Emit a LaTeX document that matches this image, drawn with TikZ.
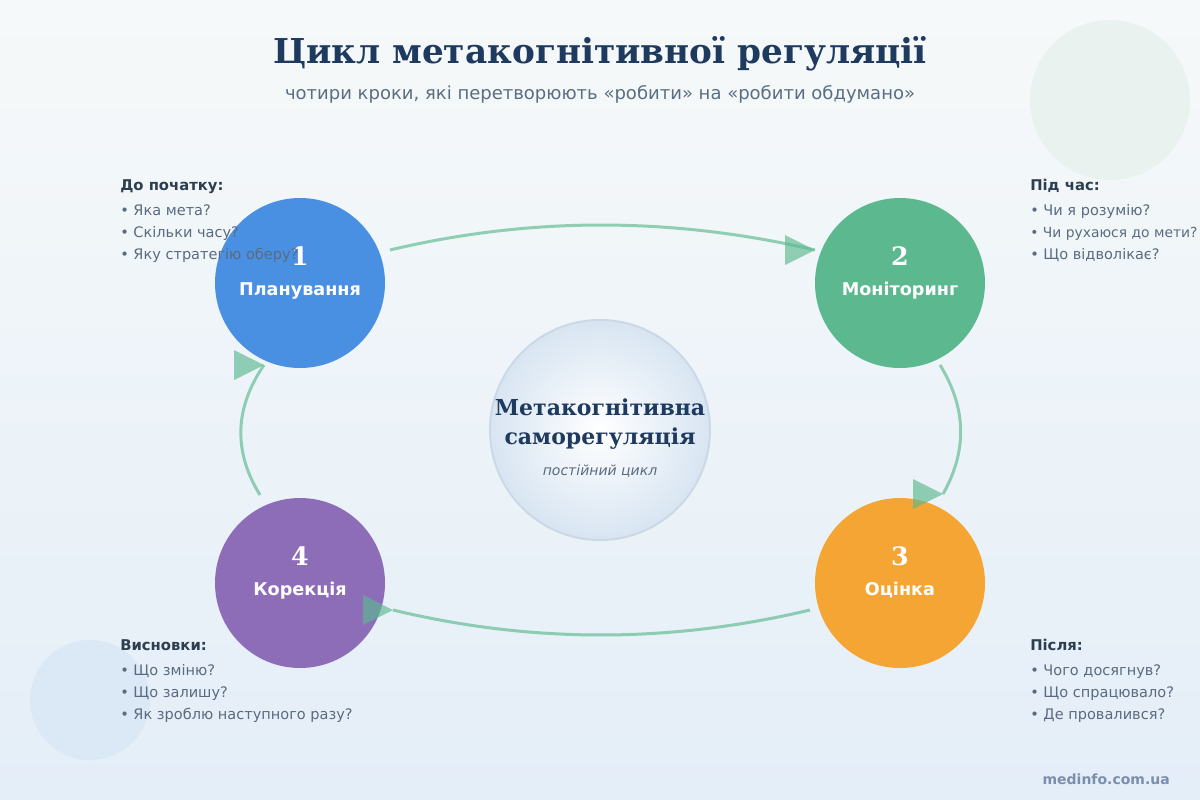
\documentclass[tikz,border=0pt]{standalone}
\usepackage{fontspec}
\setmainfont{DejaVu Serif}
\setsansfont{DejaVu Sans}
\newfontfamily\dvsans{DejaVu Sans}
\newfontfamily\dvserif{DejaVu Serif}
\definecolor{bgtop}{HTML}{F6F9F9}
\definecolor{bgbot}{HTML}{E4EEF8}
\definecolor{decogreen}{HTML}{E9F2EE}
\definecolor{decoblue}{HTML}{DBE8F5}
\definecolor{titlecol}{HTML}{1E3A5F}
\definecolor{subcol}{HTML}{5A6E82}
\definecolor{headcol}{HTML}{2C3E50}
\definecolor{bulcol}{HTML}{5A6B80}
\definecolor{plancol}{HTML}{4A90E2}
\definecolor{moncol}{HTML}{5BB88F}
\definecolor{evalcol}{HTML}{F5A533}
\definecolor{corrcol}{HTML}{8E6DB8}
\definecolor{arrcol}{HTML}{5BB98F}
\definecolor{centeredge}{HTML}{CBD8E6}
\definecolor{centerout}{HTML}{D8E5F2}
\definecolor{footcol}{HTML}{7A8FAD}
\begin{document}
\begin{tikzpicture}[x=0.75pt,y=-0.75pt,
  stepcircle/.style={circle,minimum size=127.5pt,inner sep=0pt,draw=none},
  stepnum/.style={anchor=base,text=white,font=\dvserif\bfseries\fontsize{19}{22}\selectfont,inner sep=0pt},
  steplabel/.style={anchor=base,text=white,font=\dvsans\bfseries\fontsize{13.2}{15}\selectfont,inner sep=0pt},
  sidehead/.style={anchor=base west,text=headcol,font=\dvsans\bfseries\fontsize{11.1}{13}\selectfont,inner sep=0pt},
  sidebul/.style={anchor=base west,text=bulcol,font=\dvsans\fontsize{10.9}{13}\selectfont,inner sep=0pt},
  flowline/.style={draw=arrcol,draw opacity=0.65,line width=2.25pt},
  flowtip/.style={fill=arrcol,fill opacity=0.65}
]
\useasboundingbox (0,0) rectangle (1200,800);
\shade[top color=bgtop,bottom color=bgbot] (0,0) rectangle (1200,800);
% decorative circles
\fill[decogreen] (1110,100) circle[radius=60pt];
\fill[decoblue] (90,700) circle[radius=45pt];
% title
\node[anchor=base,inner sep=0pt,text=titlecol,font=\dvserif\bfseries\fontsize{25.7}{30}\selectfont] (title) at (600,63) {Цикл метакогнітивної регуляції};
\node[anchor=base,inner sep=0pt,text=subcol,font=\dvsans\fontsize{13.5}{16}\selectfont] (subtitle) at (600,99) {чотири кроки, які перетворюють «робити» на «робити обдумано»};
% center circle
\shade[inner color=white,outer color=centerout] (600,430) circle[radius=82.5pt];
\draw[centeredge,line width=1.5pt] (600,430) circle[radius=82.5pt];
\node[circle,minimum size=165pt,inner sep=0pt] (core) at (600,430) {};
\node[anchor=base,inner sep=0pt,text=titlecol,font=\dvserif\bfseries\fontsize{16.5}{19}\selectfont] (coret1) at (600,415) {Метакогнітивна};
\node[anchor=base,inner sep=0pt,text=titlecol,font=\dvserif\bfseries\fontsize{16.5}{19}\selectfont] (coret2) at (600,444) {саморегуляція};
\node[anchor=base,inner sep=0pt,text=bulcol,font=\dvsans\itshape\fontsize{10.5}{12}\selectfont] (coret3) at (600,475) {постійний цикл};
% step circles
\node[stepcircle,fill=plancol] (plan) at (300,283) {};
\node[stepcircle,fill=moncol] (mon) at (900,283) {};
\node[stepcircle,fill=evalcol] (eval) at (900,583) {};
\node[stepcircle,fill=corrcol] (corr) at (300,583) {};
\node[stepnum] (plann) at (300,265) {1};
\node[steplabel] (planl) at (300,295) {Планування};
\node[stepnum] (monn) at (900,265) {2};
\node[steplabel] (monl) at (900,295) {Моніторинг};
\node[stepnum] (evaln) at (900,565) {3};
\node[steplabel] (evall) at (900,595) {Оцінка};
\node[stepnum] (corrn) at (300,565) {4};
\node[steplabel] (corrl) at (300,595) {Корекція};
% connectors
\coordinate (a1s) at (390,250); \coordinate (a1e) at (815,250);
\coordinate (a2s) at (940,365); \coordinate (a2e) at (943,494);
\coordinate (a3s) at (810,610); \coordinate (a3e) at (393,610);
\coordinate (a4s) at (260,495); \coordinate (a4e) at (264,365);
\draw[flowline] (a1s) .. controls (530,216.7) and (671.7,216.7) .. (a1e);
\draw[flowline] (a2s) .. controls (966.7,408.3) and (967.3,451) .. (a2e);
\draw[flowline] (a3s) .. controls (670,643.3) and (531.3,643.3) .. (a3e);
\draw[flowline] (a4s) .. controls (233.3,451.7) and (234.3,408.3) .. (a4e);
\foreach \t in {a1e,a2e,a3e,a4e} {
  \fill[flowtip] (\t) -- ++(-30,-15) -- ++(0,30) -- cycle;
}
% side texts
\node[sidehead] (h1) at (120,190) {До початку:};
\node[sidebul] (b11) at (120,215) {• Яка мета?};
\node[sidebul] (b12) at (120,237) {• Скільки часу?};
\node[sidebul] (b13) at (120,259) {• Яку стратегію оберу?};
\node[sidehead] (h2) at (1030,190) {Під час:};
\node[sidebul] (b21) at (1030,215) {• Чи я розумію?};
\node[sidebul,font=\dvsans\fontsize{10.4}{13}\selectfont] (b22) at (1030,237) {• Чи рухаюся до мети?};
\node[sidebul] (b23) at (1030,259) {• Що відволікає?};
\node[sidehead] (h3) at (1030,650) {Після:};
\node[sidebul] (b31) at (1030,675) {• Чого досягнув?};
\node[sidebul] (b32) at (1030,697) {• Що спрацювало?};
\node[sidebul] (b33) at (1030,719) {• Де провалився?};
\node[sidehead] (h4) at (120,650) {Висновки:};
\node[sidebul] (b41) at (120,675) {• Що зміню?};
\node[sidebul] (b42) at (120,697) {• Що залишу?};
\node[sidebul] (b43) at (120,719) {• Як зроблю наступного разу?};
% footer
\node[anchor=base east,text=footcol,font=\dvsans\bfseries\fontsize{10.5}{12}\selectfont,inner sep=0pt] (foot) at (1170,784) {medinfo.com.ua};
\end{tikzpicture}
\end{document}
